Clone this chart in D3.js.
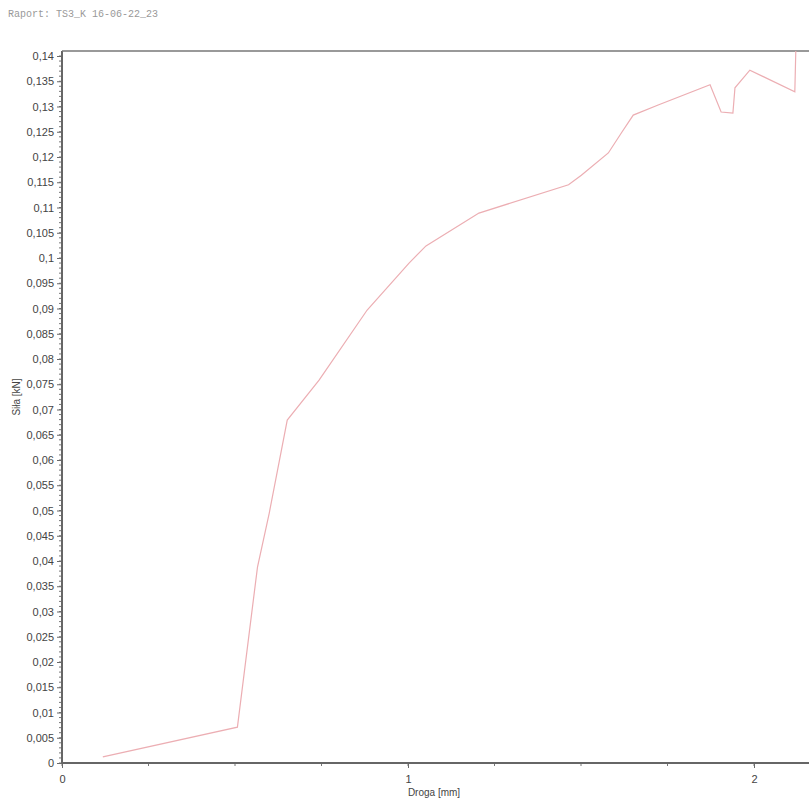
<!DOCTYPE html>
<meta charset="utf-8">
<script src="https://d3js.org/d3.v7.min.js"></script>
<title>Raport</title>
<style>
  body { margin: 0; background: white; }
  .tick text { font-family: "Liberation Sans", Arial, sans-serif; font-size: 11px; fill: #444; }
  .axis path, .axis line { stroke: #6a6a6a; }
</style>
<body>
<div id="chart"></div>
<script>
// droga [mm] and sila [kN]
var droga = [0.118, 0.507, 0.565, 0.599, 0.651, 0.743, 0.882, 1.003, 1.052, 1.205, 1.464, 1.501,
             1.579, 1.617, 1.651, 1.723, 1.873, 1.905, 1.939, 1.945, 1.988, 2.118, 2.121];
var sila  = [0.0012, 0.0071, 0.0388, 0.0495, 0.0679, 0.0758, 0.0897, 0.0990, 0.1024, 0.1089, 0.1145, 0.1164,
             0.1208, 0.1248, 0.1283, 0.1303, 0.1343, 0.1289, 0.1287, 0.1337, 0.1372, 0.1329, 0.1416];
var yTicks = d3.range(0, 0.1401, 0.005);
var xTicks = [0, 1, 2];
var title = "Raport: TS3_K 16-06-22_23";

var W = 809, H = 801;
var mLeft = 62, mBottom = 763, mTop = 51;

var svg = d3.select("#chart").append("svg")
    .attr("width", W).attr("height", H);

var x = d3.scaleLinear().domain([0, 1]).range([mLeft, 408]);
var y = d3.scaleLinear().domain([0, 0.14]).range([mBottom, 56]);

var comma = function(v) { return d3.format("~g")(+v.toFixed(3)).replace(".", ","); };

svg.append("defs").append("clipPath").attr("id", "clip")
  .append("rect").attr("x", mLeft).attr("y", mTop).attr("width", W - mLeft).attr("height", mBottom - mTop);

// minor ticks
svg.append("g").selectAll("line")
  .data(d3.range(0, 141).map(function(i) { return i / 1000; }))
  .enter().append("line")
    .attr("x1", mLeft - 3).attr("x2", mLeft)
    .attr("y1", function(d) { return y(d); }).attr("y2", function(d) { return y(d); })
    .attr("stroke", "#777");
svg.append("g").selectAll("line")
  .data(d3.range(0, 9).map(function(i) { return i * 0.25; }))
  .enter().append("line")
    .attr("x1", function(d) { return x(d); }).attr("x2", function(d) { return x(d); })
    .attr("y1", mBottom).attr("y2", mBottom + 3)
    .attr("stroke", "#777");

svg.append("g")
  .attr("class", "axis")
  .attr("transform", "translate(" + mLeft + ",0)")
  .call(d3.axisLeft(y).tickValues(yTicks).tickFormat(comma).tickSize(5).tickSizeOuter(0))
  .call(function(g) { g.select(".domain").remove(); });

svg.append("g")
  .attr("class", "axis")
  .attr("transform", "translate(0," + mBottom + ")")
  .call(d3.axisBottom(x).tickValues(xTicks).tickFormat(d3.format("d")).tickSize(5).tickSizeOuter(0))
  .call(function(g) { g.select(".domain").remove(); g.selectAll(".tick text").attr("dy", "1.1em"); });

// frame
svg.append("line").attr("x1", mLeft).attr("x2", mLeft).attr("y1", mTop).attr("y2", mBottom)
  .attr("stroke", "#666").attr("stroke-width", 2);
svg.append("line").attr("x1", mLeft).attr("x2", W).attr("y1", mBottom).attr("y2", mBottom)
  .attr("stroke", "#666").attr("stroke-width", 2);
svg.append("line").attr("x1", mLeft).attr("x2", W).attr("y1", mTop).attr("y2", mTop)
  .attr("stroke", "#777").attr("stroke-width", 1.5);

var pts = droga.map(function(d, i) { return [d, sila[i]]; });
svg.append("path")
  .datum(pts)
  .attr("clip-path", "url(#clip)")
  .attr("fill", "none")
  .attr("stroke", "#ecaeb3")
  .attr("stroke-width", 1.2)
  .attr("d", d3.line().x(function(d) { return x(d[0]); }).y(function(d) { return y(d[1]); }));

svg.append("text")
  .attr("x", 8).attr("y", 17)
  .style("font-family", "'Liberation Mono', 'DejaVu Sans Mono', monospace")
  .style("font-size", "10px")
  .attr("fill", "#999")
  .text(title);

svg.append("text")
  .attr("transform", "translate(20,397) rotate(-90)")
  .attr("text-anchor", "middle")
  .style("font-family", "'Liberation Sans', Arial, sans-serif")
  .style("font-size", "10px")
  .attr("fill", "#444")
  .text("Siła [kN]");

svg.append("text")
  .attr("x", 434).attr("y", 796)
  .attr("text-anchor", "middle")
  .style("font-family", "'Liberation Sans', Arial, sans-serif")
  .style("font-size", "10px")
  .attr("fill", "#444")
  .text("Droga [mm]");
</script>
</body>
